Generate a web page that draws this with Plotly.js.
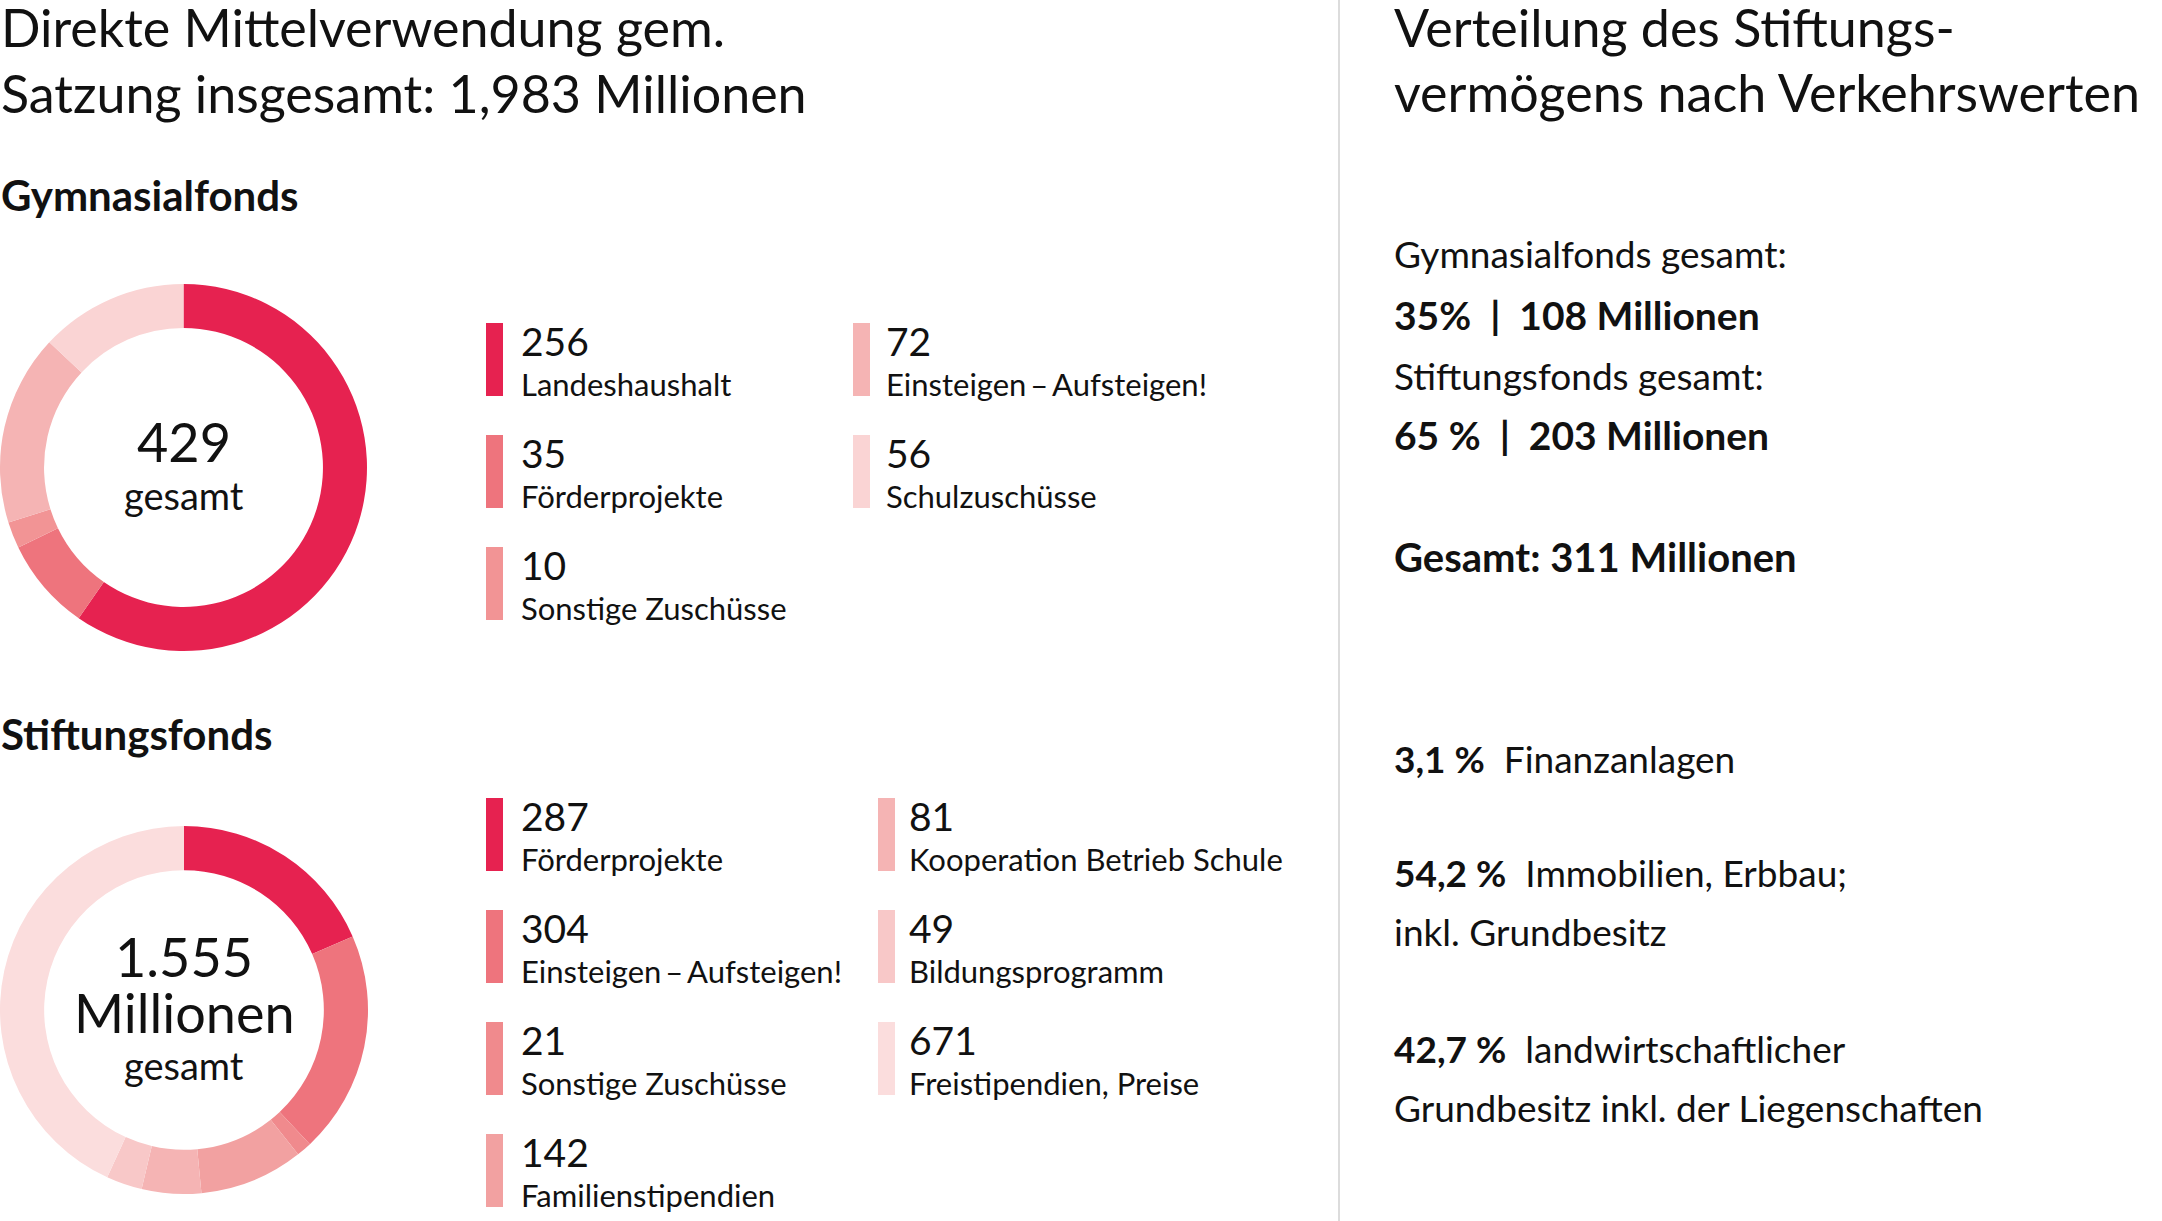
<!DOCTYPE html>
<html>
<head>
<meta charset="utf-8">
<script src="https://cdn.plot.ly/plotly-3.0.1.min.js"></script>
<style>
  html, body { margin: 0; padding: 0; background: #fff; }
  #chart { width: 2162px; height: 1221px; }
</style>
</head>
<body>
<div id="chart"></div>
<script>
// Gymnasialfonds: direkte Mittelverwendung (Mio.)
var gymLabels = ['Landeshaushalt', 'Förderprojekte', 'Sonstige Zuschüsse', 'Einsteigen\u2009–\u2009Aufsteigen!', 'Schulzuschüsse'];
var gymValues = [256, 35, 10, 72, 56];
var gymColors = ['#E62250', '#EE747D', '#F29495', '#F5B4B4', '#FAD4D4'];

// Stiftungsfonds
var stiftLabels = ['Förderprojekte', 'Einsteigen\u2009–\u2009Aufsteigen!', 'Sonstige Zuschüsse', 'Familienstipendien',
                   'Kooperation Betrieb Schule', 'Bildungsprogramm', 'Freistipendien, Preise'];
var stiftValues = [287, 304, 21, 142, 81, 49, 671];
var stiftColors = ['#E62250', '#EE747D', '#F08A8D', '#F2A1A1', '#F5B4B4', '#F8C8C8', '#FBDDDD'];

// Verteilung des Stiftungsvermögens
var shareFonds = ['Gymnasialfonds gesamt:', 'Stiftungsfonds gesamt:'];
var shareValues = ['35%  |  108 Millionen', '65 %  |  203 Millionen'];
var shareTotal = 'Gesamt: 311 Millionen';
var assetPct = ['3,1 %', '54,2 %', '42,7 %'];
var assetText = [['Finanzanlagen'], ['Immobilien, Erbbau;', 'inkl. Grundbesitz'], ['landwirtschaftlicher', 'Grundbesitz inkl. der Liegenschaften']];

var W = 2162, H = 1221;
var FONT = 'Lato, "Open Sans", sans-serif';
function fx(x) { return x / W; }
function fy(y) { return 1 - y / H; }

var annotations = [];
var shapes = [];

// text placed by its baseline (pixel coords)
function addText(txt, x, base, size, anchor) {
  annotations.push({
    text: txt, xref: 'paper', yref: 'paper',
    x: fx(x), y: fy(base - 0.387 * size),
    xanchor: anchor || 'left', yanchor: 'middle',
    showarrow: false, borderpad: 0,
    font: { family: FONT, size: size, color: '#111' }
  });
}

function legend(labels, values, colors, top, swX, txX) {
  var perCol = Math.ceil(labels.length / 2);
  for (var i = 0; i < labels.length; i++) {
    var col = i < perCol ? 0 : 1;
    var row = col === 0 ? i : i - perCol;
    var y0 = top + row * 112;
    shapes.push({
      type: 'rect', xref: 'paper', yref: 'paper',
      x0: fx(swX[col]), x1: fx(swX[col] + 17), y0: fy(y0 + 73), y1: fy(y0),
      fillcolor: colors[i], line: { width: 0 }
    });
    addText(String(values[i]), txX[col], y0 + 33, 39);
    addText(labels[i], txX[col], y0 + 73, 31);
  }
}

var gym = {
  type: 'pie', values: gymValues, labels: gymLabels,
  marker: { colors: gymColors, line: { width: 0 } },
  hole: 0.76, sort: false, direction: 'clockwise', rotation: 0,
  textinfo: 'none', hoverinfo: 'none', showlegend: false,
  domain: { x: [0, fx(367)], y: [fy(651), fy(284)] }
};
var stift = {
  type: 'pie', values: stiftValues, labels: stiftLabels,
  marker: { colors: stiftColors, line: { width: 0 } },
  hole: 0.76, sort: false, direction: 'clockwise', rotation: 0,
  textinfo: 'none', hoverinfo: 'none', showlegend: false,
  domain: { x: [0, fx(368)], y: [fy(1194), fy(826)] }
};

// left header
addText('Direkte Mittelverwendung gem.', 0, 47, 52);
addText('Satzung insgesamt: 1,983 Millionen', 0, 113, 52);
addText('<b>Gymnasialfonds</b>', 0, 211, 42);
addText('<b>Stiftungsfonds</b>', 0, 750, 42);

// donut centres
var gymSum = gymValues.reduce(function (a, b) { return a + b; }, 0);
var stiftSum = stiftValues.reduce(function (a, b) { return a + b; }, 0);
addText(String(gymSum), 184, 462, 54, 'center');
addText('gesamt', 184, 510, 38, 'center');
addText(stiftSum.toLocaleString('de-DE'), 184, 977, 54, 'center');
addText('Millionen', 184, 1033, 54, 'center');
addText('gesamt', 184, 1080, 38, 'center');

legend(gymLabels, gymValues, gymColors, 323, [486, 853], [520, 885]);
legend(stiftLabels, stiftValues, stiftColors, 798, [486, 878], [520, 908]);

// right column
var RX = 1393;
addText('Verteilung des Stiftungs-', RX, 47, 52);
addText('vermögens nach Verkehrswerten', RX, 112, 52);
addText(shareFonds[0], RX, 268, 37);
addText('<b>' + shareValues[0] + '</b>', RX, 330, 39);
addText(shareFonds[1], RX, 390, 37);
addText('<b>' + shareValues[1] + '</b>', RX, 450, 39);
addText('<b>' + shareTotal + '</b>', RX, 572, 40);

var assetBase = [773, 887, 1063];
for (var k = 0; k < assetPct.length; k++) {
  addText('<b>' + assetPct[k] + '</b>  ' + assetText[k][0], RX, assetBase[k], 37);
  if (assetText[k][1]) addText(assetText[k][1], RX, assetBase[k] + 59, 37);
}

// divider
shapes.push({
  type: 'line', xref: 'paper', yref: 'paper',
  x0: fx(1339), x1: fx(1339), y0: 0, y1: 1,
  line: { color: '#d0d0d0', width: 1.5 }
});

var layout = {
  width: W, height: H,
  margin: { l: 0, r: 0, t: 0, b: 0 },
  paper_bgcolor: '#fff', plot_bgcolor: '#fff',
  font: { family: FONT, color: '#111' },
  annotations: annotations, shapes: shapes, showlegend: false
};

Plotly.newPlot('chart', [gym, stift], layout, { displayModeBar: false, staticPlot: true });
</script>
</body>
</html>
